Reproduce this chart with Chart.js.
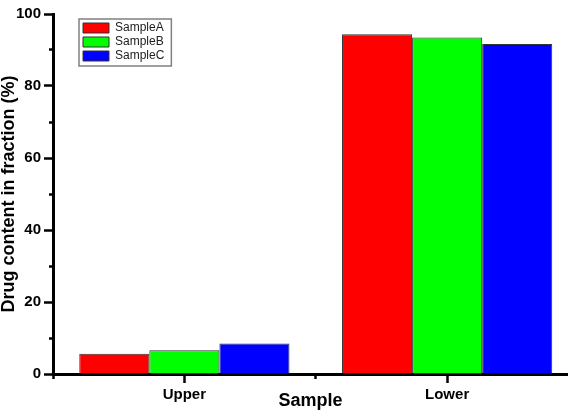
<!DOCTYPE html>
<html>
<head>
<meta charset="utf-8">
<script src="https://cdn.jsdelivr.net/npm/chart.js@4/dist/chart.umd.min.js"></script>
<style>
  html, body { margin: 0; padding: 0; background: #fff; overflow: hidden; }
</style>
</head>
<body>
<canvas id="drug-chart" width="568" height="416"></canvas>
<script>
let categories = ['Upper', 'Lower'];
let sampleA = [5.6, 94.4];
let sampleB = [6.6, 93.5];
let sampleC = [8.5, 91.7];
let seriesNames = ['SampleA', 'SampleB', 'SampleC'];
let yTicks = [0, 20, 40, 60, 80, 100];

let ctx = document.getElementById('drug-chart').getContext('2d');
Chart.defaults.font.family = '"Liberation Sans", Arial, sans-serif';
Chart.defaults.color = '#000';

// move the legend into the top left corner of the plot and frame it
let legendBox = {
    id: 'legendBox',
    afterLayout: function (chart) {
        let area = chart.chartArea;
        let legend = chart.legend;
        legend.left = area.left + 28;
        legend.top = area.top + 6;
        legend.right = area.right;
        legend.bottom = area.bottom;
    },
    afterDraw: function (chart) {
        let boxes = chart.legend.legendHitBoxes;
        if (!boxes || !boxes.length) return;
        let l = Math.min(...boxes.map(b => b.left));
        let t = Math.min(...boxes.map(b => b.top));
        let r = Math.max(...boxes.map(b => b.left + b.width));
        let b = Math.max(...boxes.map(b => b.top + b.height));
        let c = chart.ctx;
        c.save();
        c.strokeStyle = '#808080';
        c.lineWidth = 1.5;
        c.strokeRect(l - 4, t - 3, r - l + 11, b - t + 7);
        c.restore();
    }
};

let isMinorX = c => c.tick && !Number.isInteger(c.tick.value);
let isMinorY = c => c.tick && !yTicks.includes(c.tick.value);

let chart = new Chart(ctx, {
    type: 'bar',
    data: {
        labels: categories.map((c, i) => i + 1),
        datasets: [
            {label: seriesNames[0], data: sampleA, backgroundColor: '#ff0000'},
            {label: seriesNames[1], data: sampleB, backgroundColor: '#00ff00'},
            {label: seriesNames[2], data: sampleC, backgroundColor: '#0000ff'}
        ].map(d => Object.assign(d, {
            borderColor: '#333',
            borderWidth: 1,
            // ruler uses the half-step minor ticks, so 2 x 0.8 of that gap
            categoryPercentage: 1.6,
            barPercentage: 1.0
        }))
    },
    options: {
        responsive: false,
        animation: false,
        layout: {padding: {top: 14, right: 0, bottom: 0, left: 0}},
        plugins: {
            tooltip: {enabled: false},
            legend: {
                position: 'chartArea',
                align: 'start',
                labels: {
                    font: {size: 12},
                    boxWidth: 26,
                    boxHeight: 10,
                    padding: 2,
                    color: '#222'
                }
            }
        },
        scales: {
            x: {
                type: 'linear',
                offset: false,
                min: 0.5,
                max: 2.46,
                afterFit: function (s) { s.height = 42; },
                border: {color: '#000', width: 3},
                grid: {
                    offset: false,
                    drawOnChartArea: false,
                    tickLength: 9,
                    tickWidth: 2.5,
                    tickColor: '#000',
                    tickBorderDash: c => (isMinorX(c) ? [3, 30] : [])
                },
                ticks: {
                    stepSize: 0.5,
                    includeBounds: false,
                    maxRotation: 0,
                    autoSkip: false,
                    padding: 3,
                    font: {size: 15, weight: 'bold'},
                    callback: v => (Number.isInteger(v) && categories[v - 1]) ? categories[v - 1] : ''
                },
                title: {
                    display: true,
                    text: 'Sample',
                    font: {size: 18, weight: 'bold', lineHeight: 1},
                    padding: {top: 0, bottom: 6}
                }
            },
            y: {
                min: 0,
                max: 100,
                afterFit: function (s) { s.width = 53; },
                border: {color: '#000', width: 3},
                grid: {
                    drawOnChartArea: false,
                    tickLength: 9,
                    tickWidth: 2.5,
                    tickColor: '#000',
                    tickBorderDash: c => (isMinorY(c) ? [0, 5, 20] : [])
                },
                ticks: {
                    stepSize: 10,
                    padding: 3,
                    font: {size: 15, weight: 'bold'},
                    callback: v => (yTicks.includes(v) ? v : '')
                },
                title: {
                    display: true,
                    text: 'Drug content in fraction (%)',
                    font: {size: 18, weight: 'bold', lineHeight: 1},
                    padding: 0
                }
            }
        }
    },
    plugins: [legendBox]
});
</script>
</body>
</html>
